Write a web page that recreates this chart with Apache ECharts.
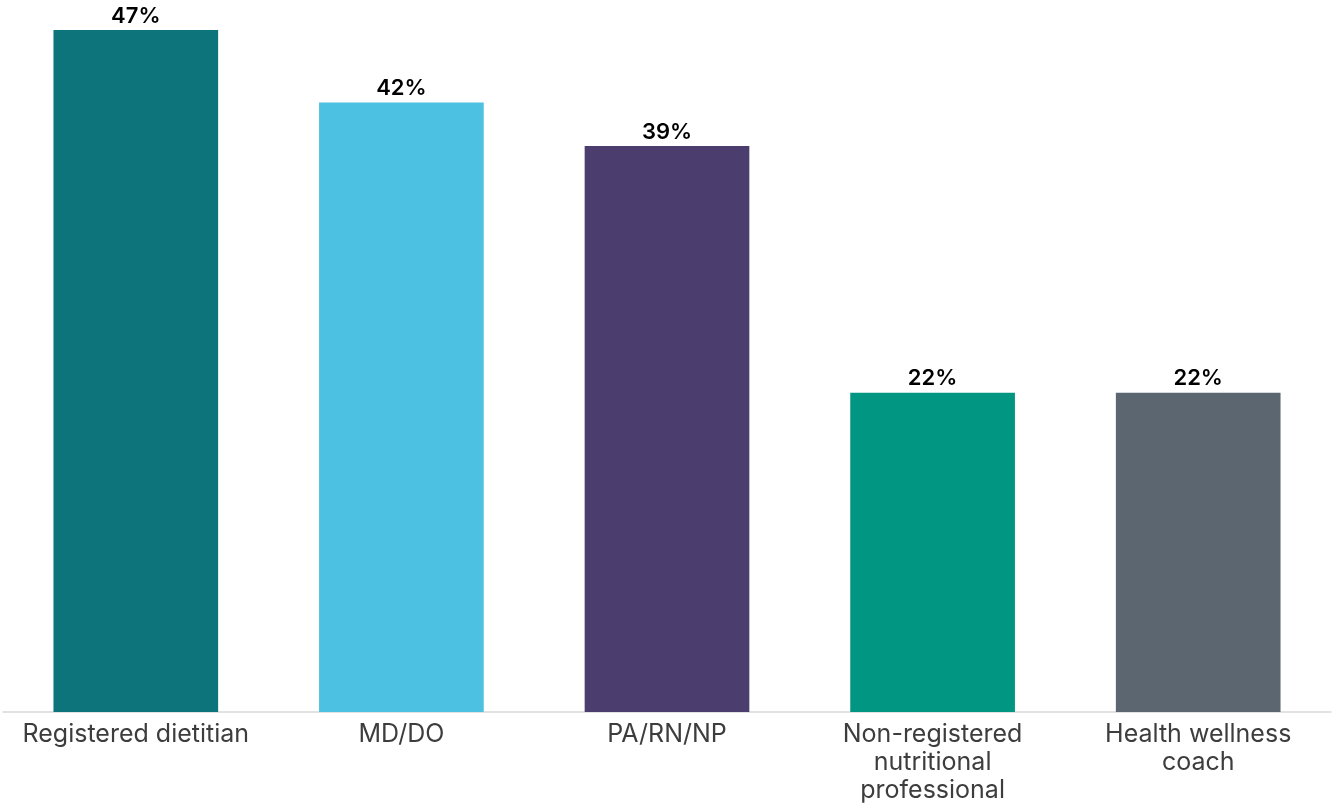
<!DOCTYPE html>
<html><head><meta charset="utf-8">
<script src="https://cdn.jsdelivr.net/npm/echarts@6/dist/echarts.min.js"></script>
<style>html,body{margin:0;padding:0;background:#fff}#c{width:1333px;height:807px}</style>
</head><body><div id="c"></div>
<script>
const categories = ['Registered dietitian', 'MD/DO', 'PA/RN/NP', 'Non-registered\nnutritional\nprofessional', 'Health wellness\ncoach'];
const values = [47, 42, 39, 22, 22];
const colors = ['#0e747c', '#4dc1e2', '#4b3e6f', '#009681', '#5c6670'];

const chart = echarts.init(document.getElementById('c'));
chart.setOption({
  animation: false,
  grid: { left: 3, right: 2, top: 30, bottom: 95, containLabel: false },
  xAxis: {
    type: 'category',
    data: categories,
    axisLine: { lineStyle: { color: '#d9d9d9', width: 1.5 } },
    axisTick: { show: false },
    axisLabel: { color: '#3d3d3d', fontFamily: 'Inter', fontSize: 25, lineHeight: 28, margin: 8, interval: 0 }
  },
  yAxis: { type: 'value', min: 0, max: 47, show: false, splitLine: { show: false } },
  series: [{
    type: 'bar',
    barWidth: '62%',
    data: values.map((v, i) => ({ value: v, itemStyle: { color: colors[i] } })),
    label: { show: true, position: 'top', distance: 3, formatter: '{c}%', color: '#000', fontFamily: 'Inter', fontWeight: 600, fontSize: 22 }
  }]
});
</script></body></html>
